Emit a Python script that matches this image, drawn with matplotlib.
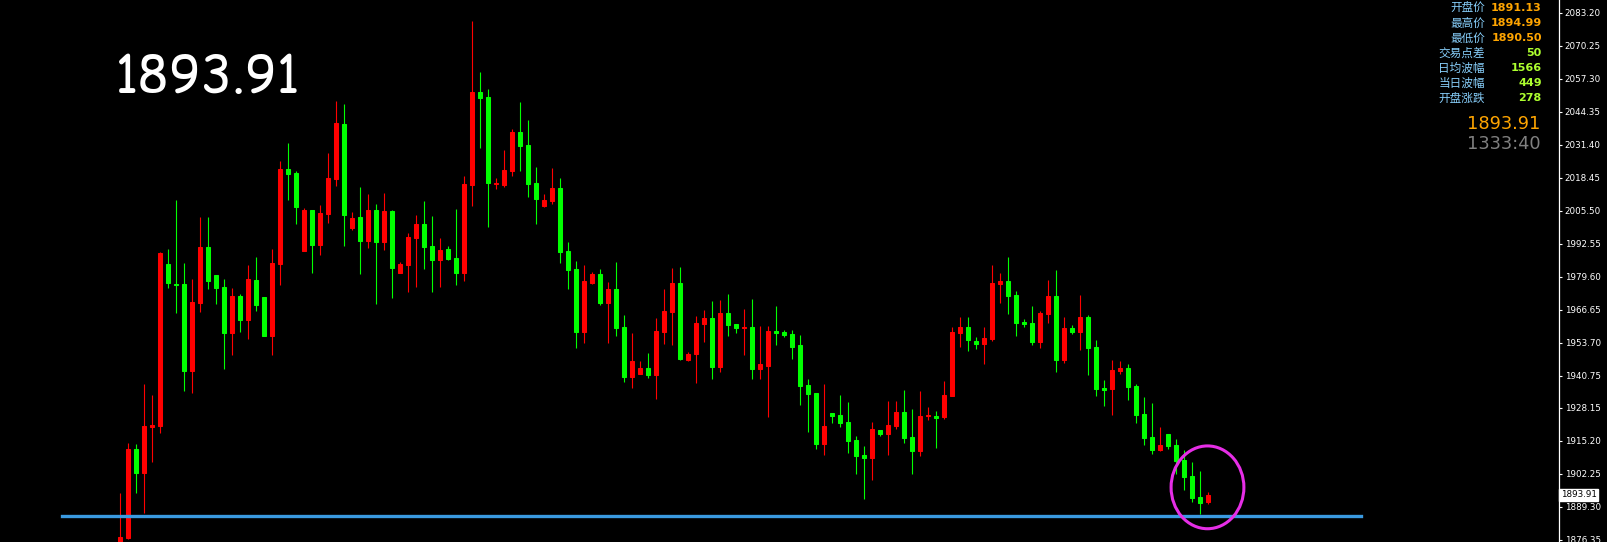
import matplotlib
matplotlib.use("Agg")
import matplotlib.pyplot as plt
from matplotlib.patches import Ellipse
from matplotlib import transforms, font_manager

# ---------------- data ----------------
opens = [1872.3, 1877.1, 1911.9, 1902.6, 1920.7, 1921.1, 1984.6, 1976.9, 1976.7, 1942.7,
         1969.4, 1991.2, 1980.2, 1975.5, 1957.6, 1972.0, 1962.7, 1978.3, 1971.6, 1956.4,
         1984.6, 2021.8, 2020.3, 1989.8, 2005.8, 1992.0, 2004.3, 2018.0, 2039.5, 1998.8,
         2003.0, 1993.7, 2005.8, 1993.3, 2005.4, 1981.0, 1984.2, 1994.8, 2000.3, 1991.6,
         1986.1, 1990.4, 1986.9, 1981.0, 2015.6, 2052.1, 2050.1, 2015.8, 2015.6, 2021.1,
         2036.4, 2031.3, 2016.3, 2007.3, 2009.3, 2014.4, 1989.7, 1982.6, 1957.9, 1977.1,
         1980.6, 1969.3, 1974.8, 1959.8, 1940.2, 1941.4, 1943.8, 1941.0, 1957.9, 1965.7,
         1977.1, 1946.9, 1949.2, 1961.0, 1963.4, 1944.1, 1965.3, 1961.0, 1959.6, 1959.8,
         1943.3, 1944.5, 1958.3, 1957.9, 1957.1, 1952.8, 1937.1, 1933.9, 1913.9, 1926.1,
         1925.3, 1922.5, 1915.5, 1909.6, 1908.4, 1919.4, 1917.8, 1921.0, 1926.5, 1916.7,
         1911.2, 1924.7, 1924.9, 1924.5, 1932.7, 1957.5, 1959.8, 1954.3, 1953.1, 1955.1,
         1976.7, 1977.9, 1972.4, 1961.8, 1961.4, 1953.9, 1964.9, 1972.0, 1946.9, 1959.4,
         1957.9, 1963.8, 1952.0, 1935.9, 1935.5, 1942.6, 1943.8, 1936.7, 1925.7, 1916.7,
         1911.6, 1917.8, 1913.5, 1907.6, 1901.3, 1893.1, 1891.13]
highs = [1894.6, 1914.2, 1913.9, 1937.5, 1933.1, 1989.4, 1990.4, 2009.7, 1985.0, 1978.7,
         2003.0, 2003.0, 1980.2, 1978.7, 1975.1, 1972.8, 1984.2, 1987.3, 1971.6, 1990.4,
         2025.0, 2032.1, 2021.1, 2006.7, 2005.8, 2007.7, 2028.1, 2048.5, 2047.4, 2005.0,
         2014.8, 2012.0, 2008.1, 2012.4, 2005.8, 1985.4, 1996.7, 2003.8, 2009.3, 2003.4,
         1994.8, 1991.6, 2006.1, 2019.1, 2079.9, 2059.9, 2053.2, 2018.3, 2029.3, 2037.6,
         2048.1, 2041.1, 2022.6, 2012.0, 2022.2, 2018.3, 1993.2, 1985.8, 1984.2, 1981.4,
         1982.6, 1977.5, 1985.4, 1964.5, 1957.5, 1946.5, 1949.6, 1963.4, 1974.8, 1983.0,
         1983.4, 1950.0, 1964.1, 1966.5, 1970.0, 1970.4, 1972.8, 1961.0, 1966.9, 1970.8,
         1960.2, 1960.2, 1968.1, 1958.6, 1958.6, 1956.7, 1939.4, 1933.9, 1937.5, 1926.1,
         1933.1, 1930.4, 1917.0, 1913.1, 1922.5, 1919.4, 1930.8, 1930.8, 1935.1, 1927.6,
         1934.7, 1928.4, 1926.9, 1938.6, 1959.8, 1963.8, 1963.8, 1955.9, 1959.8, 1984.2,
         1981.0, 1987.3, 1974.0, 1963.0, 1968.1, 1966.1, 1978.3, 1982.2, 1963.8, 1960.6,
         1972.4, 1964.5, 1954.7, 1939.0, 1946.9, 1946.5, 1945.3, 1937.5, 1932.4, 1930.0,
         1920.6, 1917.8, 1915.9, 1911.6, 1906.8, 1903.3, 1894.99]
lows = [1870.0, 1876.5, 1894.8, 1886.8, 1907.0, 1918.1, 1975.0, 1965.4, 1934.8, 1933.8,
        1965.8, 1974.9, 1969.0, 1943.5, 1949.0, 1958.0, 1955.0, 1966.1, 1956.4, 1949.0,
        1976.3, 2009.7, 2000.4, 1989.8, 1981.1, 1988.1, 2000.6, 2015.3, 1991.6, 1997.9,
        1980.6, 1990.8, 1968.9, 1990.0, 1971.2, 1981.0, 1973.6, 1975.5, 1982.6, 1973.6,
        1975.5, 1986.1, 1976.3, 1977.9, 2007.3, 2030.1, 1999.1, 2014.0, 2014.8, 2019.1,
        2021.1, 2010.9, 2000.3, 2006.9, 2008.1, 1985.0, 1974.8, 1951.6, 1953.5, 1976.7,
        1968.5, 1953.5, 1956.3, 1938.2, 1935.9, 1941.4, 1939.8, 1931.6, 1953.2, 1952.8,
        1946.9, 1946.5, 1937.9, 1953.9, 1939.4, 1942.2, 1956.3, 1957.5, 1948.8, 1939.4,
        1939.4, 1924.5, 1952.8, 1955.9, 1947.3, 1929.2, 1918.6, 1911.9, 1909.6, 1922.2,
        1920.6, 1910.4, 1902.1, 1892.3, 1899.8, 1917.0, 1909.6, 1919.8, 1914.3, 1902.1,
        1909.2, 1923.3, 1912.3, 1923.7, 1932.7, 1952.0, 1950.4, 1951.2, 1945.3, 1954.3,
        1969.3, 1964.9, 1956.3, 1959.8, 1952.8, 1951.6, 1961.4, 1942.2, 1945.7, 1957.1,
        1950.8, 1941.0, 1932.7, 1928.8, 1925.3, 1941.4, 1931.2, 1922.2, 1913.5, 1910.0,
        1911.2, 1911.9, 1902.1, 1895.8, 1891.1, 1886.4, 1890.50]
closes = [1877.5, 1911.9, 1902.6, 1921.0, 1921.4, 1988.9, 1977.0, 1976.5, 1942.7, 1969.6,
          1991.2, 1978.0, 1975.3, 1957.6, 1972.0, 1962.7, 1978.7, 1968.5, 1956.4, 1985.0,
          2021.8, 2020.0, 2007.0, 2005.8, 1992.0, 2004.6, 2018.3, 2039.9, 2003.9, 2002.6,
          1993.7, 2005.8, 1993.3, 2005.4, 1983.1, 1984.6, 1995.2, 2000.3, 1991.2, 1986.1,
          1990.0, 1986.5, 1981.0, 2015.9, 2052.1, 2049.7, 2016.3, 2016.2, 2021.5, 2036.4,
          2030.9, 2015.9, 2010.1, 2009.7, 2014.4, 1989.3, 1982.2, 1957.9, 1977.9, 1980.6,
          1969.3, 1974.8, 1959.4, 1940.2, 1946.5, 1943.8, 1941.0, 1958.3, 1966.1, 1977.1,
          1947.3, 1949.2, 1961.4, 1963.4, 1944.1, 1965.3, 1960.6, 1959.4, 1960.0, 1943.3,
          1945.3, 1958.3, 1957.5, 1956.7, 1952.0, 1936.7, 1933.5, 1913.9, 1921.0, 1924.9,
          1922.2, 1915.1, 1909.2, 1908.4, 1919.8, 1917.8, 1921.4, 1926.5, 1916.3, 1911.2,
          1924.9, 1925.1, 1924.1, 1933.1, 1957.9, 1959.8, 1954.7, 1953.1, 1955.5, 1977.1,
          1977.9, 1972.0, 1961.4, 1961.0, 1953.9, 1965.3, 1972.0, 1946.9, 1959.4, 1957.9,
          1963.8, 1951.6, 1935.5, 1935.1, 1942.9, 1943.8, 1936.3, 1925.3, 1916.3, 1911.6,
          1913.5, 1913.1, 1907.2, 1900.9, 1892.7, 1890.7, 1893.91]

tick_values = [2083.20, 2070.25, 2057.30, 2044.35, 2031.40, 2018.45, 2005.50, 1992.55,
               1979.60, 1966.65, 1953.70, 1940.75, 1928.15, 1915.20, 1902.25, 1889.30, 1876.35]
tick_labels = ["%.2f" % v for v in tick_values]

support_level = 1885.5
current_price = 1893.91
info_labels = ["开盘价", "最高价", "最低价", "交易点差", "日均波幅", "当日波幅", "开盘涨跌"]
info_values = ["1891.13", "1894.99", "1890.50", "50", "1566", "449", "278"]
timer_text = "1333:40"

# ---------------- figure ----------------
W, H = 1607, 542
fig = plt.figure(figsize=(W / 100, H / 100), dpi=100, facecolor="black")
ax = fig.add_axes([0, 0, 1559 / W, 1])
ax.set_facecolor("black")

UP, DOWN = "#FF0000", "#00FF00"
idx = list(range(len(opens)))
cols = [UP if c >= o else DOWN for o, c in zip(opens, closes)]

ax.vlines(idx, lows, highs, colors=cols, linewidth=0.8, zorder=2)
bottoms = [min(o, c) for o, c in zip(opens, closes)]
heights = [abs(c - o) for o, c in zip(opens, closes)]
ax.bar(idx, heights, bottom=bottoms, width=0.5, color=cols, edgecolor=cols,
       linewidth=0.75, zorder=3)

ax.set_xlim(-15.04, 179.84)
ax.set_ylim(1875.44, 2088.18)

# support line
ax.axhline(support_level, xmin=61.5 / 1559, xmax=1361 / 1559, color="#3A9AE0",
           linewidth=2.4, zorder=4)

# magenta circle around last candles
ax.add_patch(Ellipse((135.9, 1896.9), width=9.1, height=32.5, fill=False,
                     edgecolor="#E62EE6", linewidth=2.2, zorder=5))

# axes styling
for s in ["top", "bottom", "left"]:
    ax.spines[s].set_visible(False)
ax.spines["right"].set_color("white")
ax.spines["right"].set_linewidth(0.9)
ax.set_xticks([])
ax.yaxis.tick_right()
ax.set_yticks(tick_values)
ax.set_yticklabels(tick_labels)
ax.tick_params(axis="y", colors="white", labelcolor="white", labelsize=6.3,
               length=2, width=0.8, pad=2)

# current price tag
blend = transforms.blended_transform_factory(ax.transAxes, ax.transData)
ax.text(1.0012, current_price, "%.2f" % current_price, transform=blend, ha="left",
        va="center", fontsize=6.3, color="black", zorder=6,
        bbox=dict(boxstyle="square,pad=0.18", fc="white", ec="white"))

# big price text
names = {f.name for f in font_manager.fontManager.ttflist}
big_fam = "DejaVu Sans"
for cand in ["Comic Relief", "Comic Neue"]:
    if cand in names:
        big_fam = cand
        break
fig.text(115 / W, 1 - 92.8 / H, "%.2f" % current_price, color="white",
         fontsize=37.3, family=big_fam, ha="left", va="baseline")

# info panel
row_y = [8.3, 23.3, 38.3, 53.3, 68.3, 83.3, 98.3]
for i, (lab, val) in enumerate(zip(info_labels, info_values)):
    y = 1 - row_y[i] / H
    fig.text(1485 / W, y, lab, color="#87CEFA", fontsize=8.4,
             family=["Noto Sans CJK SC", "DejaVu Sans"], ha="right", va="center")
    vc = "#FFA500" if i < 3 else "#ADFF2F"
    fig.text(1541.7 / W, y, val, color=vc, fontsize=8, fontweight="bold",
             family="DejaVu Sans", ha="right", va="center")

fig.text(1540 / W, 1 - 124 / H, "%.2f" % current_price, color="#FFA500",
         fontsize=12.8, family="DejaVu Sans", ha="right", va="center")
fig.text(1541 / W, 1 - 144 / H, timer_text, color="#808080",
         fontsize=12.8, family="DejaVu Sans", ha="right", va="center")

fig.savefig("out.png", dpi=100, facecolor="black")
